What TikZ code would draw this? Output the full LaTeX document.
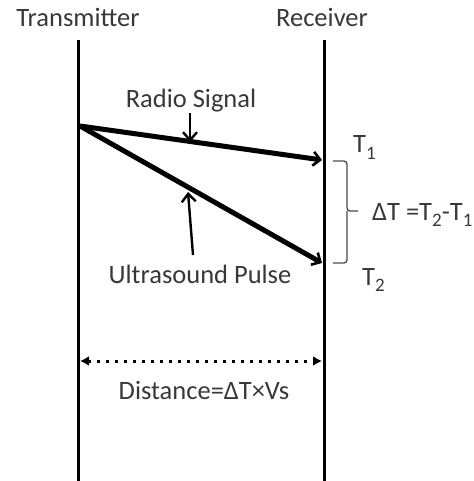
\documentclass[tikz,border=0pt]{standalone}
\usepackage{fontspec}
\setmainfont{Carlito}
\usetikzlibrary{arrows.meta, positioning}
\definecolor{ctext}{HTML}{383838}
\definecolor{cgrey}{HTML}{4A4A4A}
\newcommand{\lowsub}[1]{\raisebox{-0.5ex}{\fontsize{19}{20}\selectfont #1}}
\tikzset{
  every picture/.style={font=\fontsize{26.5}{30}\selectfont},
  lbl/.style={text=ctext, inner sep=0pt, anchor=base},
  wall/.style={draw=black, line width=3pt},
  signal/.style={draw=black, line width=5pt, -{Straight Barb[length=7pt, width=14pt, line width=2.6pt]}},
  pointer/.style={draw=black, line width=2.4pt, -{Straight Barb[length=8pt, width=14pt]}},
  span/.style={draw=black, line width=3pt, dash pattern=on 3pt off 6pt, {Latex[length=9pt, width=10pt]}-{Latex[length=9pt, width=10pt]}},
  brace/.style={draw=cgrey, line width=1.3pt, rounded corners=3pt},
}

\begin{document}
\begin{tikzpicture}[x=1pt, y=-1pt]
  \useasboundingbox (0,0) rectangle (473,481);
  % stations
  \node[lbl] (tx) at (78,27) {Transmitter};
  \node[lbl] (rx) at (322,27) {Receiver};
  \coordinate (txtop) at (78,40); \coordinate (txbot) at (78,481);
  \coordinate (rxtop) at (324,40); \coordinate (rxbot) at (324,481);
  \draw[wall] (txtop) -- (txbot); \draw[wall] (rxtop) -- (rxbot);
  % signals
  \coordinate (src) at (80,126); \coordinate (t1) at (322,160); \coordinate (t2) at (322,263);
  \draw[signal] (src) -- (t1); \draw[signal] (src) -- (t2);
  \node[lbl] (radio) at (191,108) {Radio Signal};
  \node[lbl] (ultra) at (200,283) {Ultrasound Pulse};
  \coordinate (rtail) at (190,113); \coordinate (rtip) at (190,142);
  \coordinate (utail) at (193,255); \coordinate (utip) at (188,192);
  \draw[pointer] (rtail) -- (rtip); \draw[pointer] (utail) -- (utip);
  % times
  \node[lbl, anchor=base west] (lt1) at (353,153) {T\lowsub{1}};
  \node[lbl, anchor=base west] (lt2) at (362,285) {T\lowsub{2}};
  \node[lbl, anchor=base west] (dt) at (372,220) {ΔT =T\lowsub{2}-T\lowsub{1}};
  \coordinate (btop) at (333,161); \coordinate (bbot) at (333,263); \coordinate (bmid) at (347,211); \coordinate (bpt) at (358,211);
  \draw[brace] (btop) -| (bmid) -- (bpt); \draw[brace] (bbot) -| (bmid);
  % distance
  \coordinate (dl) at (80,361); \coordinate (dr) at (322,361);
  \draw[span] (dl) -- (dr);
  \node[lbl] (dist) at (204,399) {Distance=ΔT×Vs};
\end{tikzpicture}
\end{document}
